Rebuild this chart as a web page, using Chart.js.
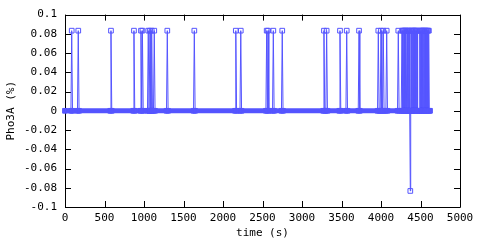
<!DOCTYPE html>
<html>
<head>
<meta charset="utf-8">
<script src="https://cdn.jsdelivr.net/npm/chart.js@4.4.1/dist/chart.umd.min.js"></script>
<style>
html,body{margin:0;padding:0;background:#fff;}
#wrap{width:480px;height:240px;}
</style>
</head>
<body>
<div id="wrap"><canvas id="c" width="480" height="240"></canvas></div>
<script>
// ---- data ----
const seriesName = "Pho3A";
const times = [
  0, 75, 85, 95, 158, 168, 178, 572, 582, 592, 863, 873, 883,
  952, 962, 971, 980, 990, 1044, 1054, 1064, 1068, 1076, 1086, 1090, 1097, 1107, 1120, 1130, 1140,
  1285, 1295, 1305, 1627, 1637, 1647, 2152, 2162, 2172, 2215, 2225, 2235,
  2543, 2553, 2562, 2570, 2580, 2627, 2637, 2647, 2740, 2750, 2760,
  3268, 3278, 3288, 3302, 3312, 3322, 3471, 3481, 3491, 3556, 3566, 3576,
  3712, 3722, 3732, 3956, 3966, 3976, 3990, 4000, 4010, 4019, 4029, 4039,
  4062, 4072, 4082, 4209, 4219, 4229,
  4256, 4266, 4271, 4276, 4281, 4286, 4291, 4296, 4301, 4306, 4311, 4316, 4321, 4331, 4336,
  4341, 4346, 4351, 4356, 4361, 4366, 4371, 4376, 4381, 4386, 4391, 4396, 4401, 4406, 4411,
  4416, 4421, 4426, 4431, 4436, 4441, 4446, 4451, 4456, 4461, 4466, 4486, 4491, 4496, 4501,
  4506, 4511, 4516, 4521, 4526, 4531, 4536, 4541, 4546, 4551, 4556, 4561, 4566, 4571, 4576,
  4586, 4591, 4596, 4601, 4606, 4611, 4620
];
const values = [
  0, 0, 0.0833, 0, 0, 0.0833, 0, 0, 0.0833, 0, 0, 0.0833, 0,
  0, 0.0833, 0, 0.0833, 0, 0, 0.0833, 0, 0, 0.0833, 0, 0, 0.0833, 0, 0, 0.0833, 0,
  0, 0.0833, 0, 0, 0.0833, 0, 0, 0.0833, 0, 0, 0.0833, 0,
  0, 0.0833, 0, 0.0833, 0, 0, 0.0833, 0, 0, 0.0833, 0,
  0, 0.0833, 0, 0, 0.0833, 0, 0, 0.0833, 0, 0, 0.0833, 0,
  0, 0.0833, 0, 0, 0.0833, 0, 0, 0.0833, 0, 0, 0.0833, 0,
  0, 0.0833, 0, 0, 0.0833, 0,
  0, 0.0833, 0, 0.0833, 0, 0.0833, 0, 0.0833, 0, 0.0833, 0, 0.0833, 0, 0.0833, 0,
  0.0833, 0, 0.0833, 0, 0.0833, 0, -0.0833, 0, 0.0833, 0, 0.0833, 0, 0.0833, 0, 0.0833,
  0, 0.0833, 0, 0.0833, 0, 0.0833, 0, 0.0833, 0, 0.0833, 0, 0, 0.0833, 0, 0.0833,
  0, 0.0833, 0, 0.0833, 0, 0.0833, 0, 0.0833, 0, 0.0833, 0, 0.0833, 0, 0.0833, 0,
  0.0833, 0, 0.0833, 0, 0.0833, 0, 0
];
const baselineTimes = [0, 4620];
const baselineValues = [0, 0];
const xTickLabels = ["0","500","1000","1500","2000","2500","3000","3500","4000","4500","5000"];
const yTickLabels = ["-0.1","-0.08","-0.06","-0.04","-0.02","0","0.02","0.04","0.06","0.08","0.1"];
const xTitle = "time (s)";
const yTitle = "Pho3A (%)";

// ---- chart ----
const BLUE = "rgb(85,85,255)";
const FONT = {family: "'DejaVu Sans Mono', monospace", size: 11};

const seriesPts = times.map((t, i) => ({x: t, y: values[i]}));
const basePts = baselineTimes.map((t, i) => ({x: t, y: baselineValues[i]}));

const frame = {
  id: 'frame',
  beforeDatasetsDraw(chart) {
    const {ctx, chartArea: a, scales: {x, y}} = chart;
    ctx.save();
    ctx.strokeStyle = '#000';
    ctx.lineWidth = 1;
    ctx.beginPath();
    ctx.rect(Math.round(a.left) + 0.5, Math.round(a.top) + 0.5,
             Math.round(a.right - a.left), Math.round(a.bottom - a.top));
    x.ticks.forEach(t => {
      const px = Math.round(x.getPixelForValue(t.value)) + 0.5;
      ctx.moveTo(px, a.bottom); ctx.lineTo(px, a.bottom - 6);
      ctx.moveTo(px, a.top); ctx.lineTo(px, a.top + 6);
    });
    y.ticks.forEach(t => {
      const py = Math.round(y.getPixelForValue(t.value)) + 0.5;
      ctx.moveTo(a.left, py); ctx.lineTo(a.left + 6, py);
      ctx.moveTo(a.right, py); ctx.lineTo(a.right - 6, py);
    });
    ctx.stroke();
    ctx.restore();
  }
};

new Chart(document.getElementById('c'), {
  type: 'scatter',
  data: {
    datasets: [
      {
        label: seriesName + ' baseline',
        data: basePts,
        showLine: true,
        borderColor: BLUE,
        borderWidth: 5,
        borderCapStyle: 'square',
        pointRadius: 0,
        clip: false,
        order: 2
      },
      {
        label: seriesName,
        data: seriesPts,
        showLine: true,
        borderColor: BLUE,
        backgroundColor: 'rgba(0,0,0,0)',
        borderWidth: 1,
        pointStyle: 'rect',
        pointRadius: 3.3,
        pointBorderWidth: 1,
        pointBorderColor: BLUE,
        pointBackgroundColor: 'rgba(0,0,0,0)',
        tension: 0,
        clip: false,
        order: 1
      }
    ]
  },
  plugins: [frame],
  options: {
    responsive: false,
    animation: false,
    devicePixelRatio: 1,
    layout: {padding: {top: 14, right: 20, left: 0, bottom: 0}},
    plugins: {legend: {display: false}, tooltip: {enabled: false}},
    scales: {
      x: {
        type: 'linear', min: 0, max: 5000,
        grid: {display: false, drawTicks: false},
        border: {display: false},
        ticks: {
          stepSize: 500, maxRotation: 0, autoSkip: false, padding: 5,
          color: '#000', font: FONT,
          callback: (v, i) => xTickLabels[i]
        },
        title: {display: true, text: xTitle, color: '#000', font: FONT, padding: {top: 0, bottom: 0}},
        afterFit(s) { s.height = 33; }
      },
      y: {
        type: 'linear', min: -0.1, max: 0.1,
        grid: {display: false, drawTicks: false},
        border: {display: false},
        ticks: {
          stepSize: 0.02, autoSkip: false, padding: 8,
          color: '#000', font: FONT,
          callback: (v, i) => yTickLabels[i]
        },
        title: {display: true, text: yTitle, color: '#000', font: FONT, padding: {top: 5, bottom: 0}},
        afterFit(s) { s.width = 65; }
      }
    }
  }
});
</script>
</body>
</html>
